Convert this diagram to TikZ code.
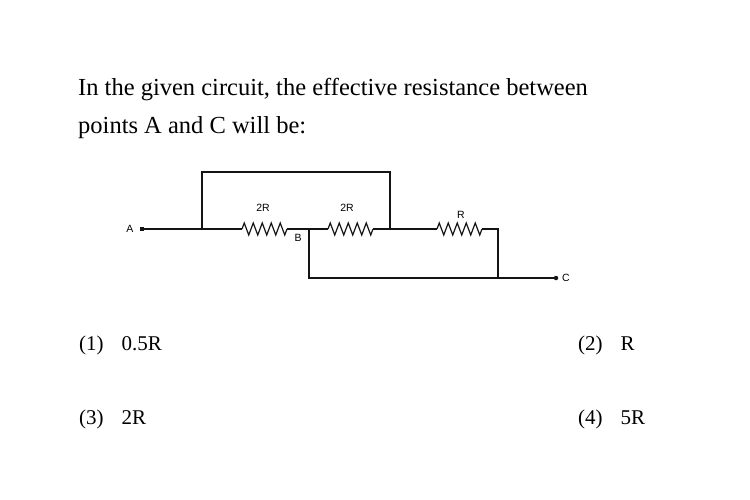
\documentclass[tikz,border=0pt]{standalone}
\usepackage{fontspec}
\setmainfont{Liberation Serif}
\setsansfont{Liberation Sans}
\usepackage{tikz}
\usetikzlibrary{positioning, decorations.pathmorphing}
\definecolor{wirecolor}{RGB}{20,20,20}

\begin{document}
\begin{tikzpicture}[
    x=1pt, y=-1pt,
    wire/.style={draw=wirecolor, line width=1.2pt},
    resistor/.style={wire, decorate, decoration={zigzag, segment length=9pt, amplitude=6pt}},
    terminal/.style={rectangle, fill=wirecolor, inner sep=0pt, minimum size=4.5pt},
    question/.style={anchor=base west, inner sep=0pt, font=\fontsize{24.5}{30}\selectfont},
    option/.style={anchor=base west, inner sep=0pt, font=\fontsize{21}{26}\selectfont},
    label/.style={inner sep=0pt, font=\sffamily\fontsize{10.5}{12}\selectfont}
]
    \useasboundingbox (0,0) rectangle (750,500);

    % Question
    \node[question] (q1) at (78,96) {In the given circuit, the effective resistance between};
    \node[question] (q2) at (78,134) {points A and C will be:};

    % Terminals and junctions
    \node[terminal] (dotA) at (142,229) {};
    \node[terminal, circle] (dotC) at (556,278) {};
    \coordinate (jL) at (202,229);
    \coordinate (topL) at (202,172);
    \coordinate (topR) at (390,172);
    \coordinate (jR) at (390,229);
    \coordinate (jB) at (309,229);
    \coordinate (botB) at (309,278);
    \coordinate (botR) at (498,278);
    \coordinate (cornR) at (498,229);

    % Resistor ends
    \coordinate (r1a) at (242,229);
    \coordinate (r1b) at (287,229);
    \coordinate (r2a) at (328,229);
    \coordinate (r2b) at (373,229);
    \coordinate (r3a) at (437,229);
    \coordinate (r3b) at (482,229);

    % Wires
    \draw[wire] (dotA) -- (jL) -- (r1a);
    \draw[wire] (jL) -- (topL) -- (topR) -- (jR);
    \draw[wire] (r1b) -- (jB) -- (r2a);
    \draw[wire] (r2b) -- (jR) -- (r3a);
    \draw[wire] (r3b) -- (cornR) -- (botR);
    \draw[wire] (jB) -- (botB) -- (botR) -- (dotC);

    % Resistors
    \draw[resistor] (r1a) -- (r1b);
    \draw[resistor] (r2a) -- (r2b);
    \draw[resistor] (r3a) -- (r3b);

    % Labels
    \node[label] (labA) at (130,229) {A};
    \node[label] (labC) at (566,278) {C};
    \node[label] (labB) at (298,238) {B};
    \node[label] (lab1) at (263,208) {2R};
    \node[label] (lab2) at (347,208) {2R};
    \node[label] (lab3) at (461,215) {R};

    % Options
    \node[option] (opt1) at (79,350) {(1)\hspace{0.85em}0.5R};
    \node[option] (opt2) at (578,350) {(2)\hspace{0.85em}R};
    \node[option] (opt3) at (79,424) {(3)\hspace{0.85em}2R};
    \node[option] (opt4) at (578,424) {(4)\hspace{0.85em}5R};
\end{tikzpicture}
\end{document}
